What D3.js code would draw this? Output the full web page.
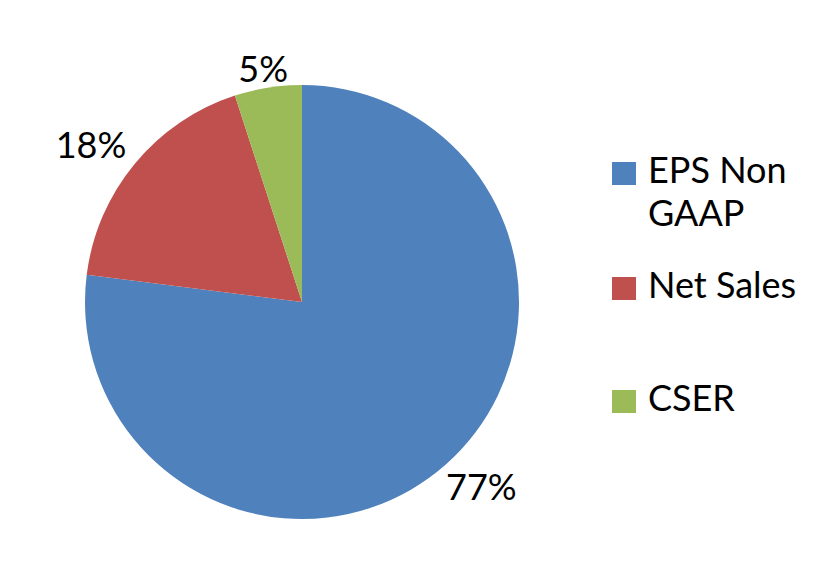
<!DOCTYPE html>
<html><head><meta charset="utf-8">
<script src="https://cdn.jsdelivr.net/npm/d3@7"></script>
<style>html,body{margin:0;padding:0;background:#fff;overflow:hidden}</style>
</head><body>
<svg id="chart" width="825" height="585"></svg>
<script>
const categories = ["EPS Non GAAP", "Net Sales", "CSER"];
const legendLines = [["EPS Non", "GAAP"], ["Net Sales"], ["CSER"]];
const values = [77, 18, 5];
const labels = ["77%", "18%", "5%"];
const colors = ["#4F81BD", "#C0504D", "#9BBB59"];

const svg = d3.select("#chart");
const font = "Lato, 'Open Sans', sans-serif";
const fs = 36;
const cx = 302, cy = 302, r = 217;

svg.append("defs").append("clipPath").attr("id", "legclip")
  .append("rect").attr("x", 600).attr("y", 0).attr("width", 200).attr("height", 585);

const pie = d3.pie().sort(null).value(d => d);
const arcs = pie(values);
const arc = d3.arc().innerRadius(0).outerRadius(r);

const g = svg.append("g").attr("transform", `translate(${cx},${cy})`);
g.selectAll("path").data(arcs).join("path")
  .attr("d", arc).attr("fill", (d, i) => colors[i]);

g.selectAll("text.lbl").data(arcs).join("text")
  .attr("class", "lbl")
  .attr("font-family", font).attr("font-size", fs).attr("fill", "#000")
  .attr("text-anchor", "middle").attr("dominant-baseline", "central")
  .text((d, i) => labels[i])
  .each(function(d) {
    const a = (d.startAngle + d.endAngle) / 2;
    const s = Math.sin(a), c = Math.cos(a);
    const w = this.getBBox().width, h = 28;
    const px = 3 + 24 * Math.abs(s), py = 3 + 18 * Math.abs(s);
    d3.select(this)
      .attr("x", s * (r + w / 2 + px))
      .attr("y", -c * (r + h / 2 + py));
  });

const legendY = [183, 298, 411];
const lg = svg.append("g").attr("clip-path", "url(#legclip)");
categories.forEach((cat, i) => {
  const y0 = legendY[i];
  lg.append("rect").attr("x", 612).attr("y", y0 - 21).attr("width", 24).attr("height", 23)
    .attr("fill", colors[i]);
  const t = lg.append("text").attr("x", 648).attr("y", y0)
    .attr("font-family", font).attr("font-size", fs).attr("fill", "#000");
  legendLines[i].forEach((ln, j) => {
    t.append("tspan").attr("x", 648).attr("dy", j === 0 ? 0 : 43).text(ln);
  });
});
</script>
</body></html>
